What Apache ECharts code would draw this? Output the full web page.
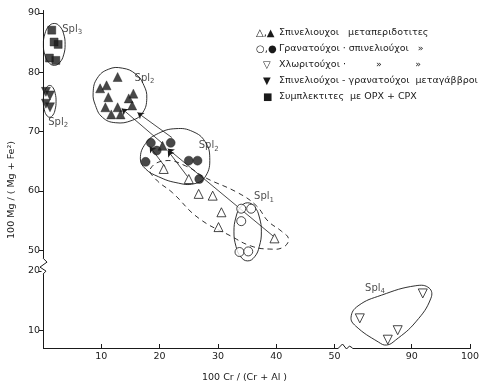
<!DOCTYPE html>
<html><head><meta charset="utf-8">
<script src="https://cdn.jsdelivr.net/npm/echarts@6/dist/echarts.min.js"></script>
<style>html,body{margin:0;padding:0;background:#fff}#c{width:485px;height:383px}</style>
</head><body><div id="c"></div>
<script>
// ---- tick labels ----
const xTicks = [10, 20, 30, 40, 50, 90, 100];
const yTicks = [10, 20, 50, 60, 70, 80, 90];

// ---- data points [100Cr/(Cr+Al), 100Mg/(Mg+Fe)] ----
const squares = [[1.5, 87.1], [1.9, 85.1], [2.6, 84.7], [1.1, 82.4], [2.2, 82.0]];
const filledInvTri = [[0.5, 76.7], [1.2, 76.1], [0.5, 74.7], [1.2, 74.1]];
const filledTri = [[12.8, 79.2], [9.8, 77.3], [10.9, 77.8], [11.2, 75.8], [14.7, 75.6], [15.5, 76.4],
                   [10.7, 74.1], [11.7, 72.9], [12.8, 74.1], [13.3, 72.9], [15.3, 74.4], [20.5, 67.6]];
const filledCircle = [[18.5, 68.1], [19.5, 66.8], [21.9, 68.1], [17.6, 64.9], [25.0, 65.1], [26.5, 65.1], [26.8, 62.0]];
const openTri = [[20.7, 63.7], [25.0, 62.0], [26.7, 59.5], [29.1, 59.2], [30.6, 56.4], [30.1, 53.9], [39.7, 52.0]];
const openCircle = [[34.0, 57.0], [35.7, 57.0], [34.0, 54.9], [33.7, 49.7], [35.2, 49.8]];
const openInvTri = [[81.1, 12.0], [87.6, 10.0], [85.9, 8.4], [91.9, 16.2]];

// ---- group outlines (data coordinates) ----
const spl3Outline = [[1.93, 88.23], [2.86, 87.76], [3.54, 86.47], [3.79, 84.7], [3.54, 82.93], [2.86, 81.64],
                     [1.93, 81.17], [1.0, 81.64], [0.32, 82.93], [0.07, 84.7], [0.32, 86.47], [1.0, 87.76]];
const spl2SmallOutline = [[1.15, 77.78], [1.70, 77.42], [2.09, 76.44], [2.24, 75.1], [2.09, 73.76], [1.70, 72.78],
                          [1.15, 72.42], [0.60, 72.78], [0.21, 73.76], [0.06, 75.1], [0.21, 76.44], [0.60, 77.42]];
const spl2TopOutline = [[8.6, 76.6], [9.3, 79.0], [11.2, 80.5], [13.6, 80.7], [15.9, 79.7], [17.3, 77.8],
                        [17.8, 75.6], [17.1, 73.2], [15.3, 71.9], [12.4, 71.5], [10.2, 72.4], [9.0, 74.4]];
const spl2MidOutline = [[16.7, 65.4], [17.6, 68.0], [19.8, 69.7], [22.8, 70.5], [25.7, 70.0], [27.8, 68.3],
                        [28.6, 65.6], [27.9, 62.5], [25.9, 61.2], [22.8, 61.4], [19.8, 62.4], [17.6, 63.7]];
const spl1Outline = [[35.1, 58.0], [36.3, 57.3], [37.1, 55.6], [37.45, 53.1], [37.1, 50.65], [36.3, 48.9],
                     [35.1, 48.2], [33.9, 48.9], [33.1, 50.65], [32.75, 53.1], [33.1, 55.6], [33.9, 57.3]];
const spl4Outline = [[79.6, 12.2], [80.8, 14.1], [84.8, 15.9], [90.7, 17.5], [93.0, 17.1], [93.3, 15.4],
                     [90.7, 11.4], [87.2, 8.3], [85.7, 7.5], [84.3, 8.0], [80.4, 10.7]];
const dashedEnvelope = [[18.4, 63.7], [21.0, 65.1], [24.5, 64.2], [27.9, 62.2], [33.4, 59.7], [36.6, 57.5],
                        [38.6, 54.9], [40.9, 53.2], [42.1, 51.9], [41.2, 50.5], [38.8, 50.2], [35.7, 50.7],
                        [32.2, 52.4], [26.7, 55.4], [22.2, 59.7], [19.3, 62.0]];

// ---- arrows [from, to] ----
const arrows = [
  [[20.5, 68.0], [13.5, 73.9]],
  [[22.1, 69.0], [16.2, 73.2]],
  [[20.9, 64.1], [18.3, 67.5]],
  [[24.8, 62.4], [21.4, 66.8]],
  [[39.7, 52.2], [21.4, 67.1]]
];

// ---- group labels [x, y, name, subscript] ----
const groupLabels = [
  [3.3, 87.3, 'Spl', '3'],
  [0.9, 71.6, 'Spl', '2'],
  [15.7, 79.0, 'Spl', '2'],
  [26.7, 67.6, 'Spl', '2'],
  [36.2, 59.0, 'Spl', '1'],
  [82.0, 17.1, 'Spl', '4']
];

// ---- legend ----
const legendSymbols = ['△,▲', '○,●', '▽', '▼', '■'];
const legendTexts = [
  'Σπινελιουχοι   μεταπεριδοτιτες',
  'Γρανατούχοι · σπινελιούχοι   »',
  'Χλωριτούχοι ·          »           »',
  'Σπινελιούχοι - γρανατούχοι  μεταγάββροι',
  'Συμπλεκτιτες  με OPX + CPX'
];

const solidOutlines = [spl3Outline, spl2SmallOutline, spl2TopOutline, spl2MidOutline, spl1Outline, spl4Outline];
const dashedOutlines = [dashedEnvelope];

const FONT = 'DejaVu Sans';
const INK = '#1a1a1a';

const chart = echarts.init(document.getElementById('c'), null, {renderer: 'canvas'});

function outlineSeries(list, dashed) {
  return {
    type: 'custom',
    z: 1,
    silent: true,
    data: list.map((_, i) => [i]),
    renderItem: function (params, api) {
      const pts = list[params.dataIndex].map(p => api.coord(p));
      return {
        type: 'polygon',
        shape: {points: pts, smooth: 0.45},
        style: {fill: 'none', stroke: INK, lineWidth: 0.9, lineDash: dashed ? [5, 4] : null}
      };
    }
  };
}

function scatter(data, symbol, filled, size, rotate) {
  return {
    type: 'scatter',
    z: 5,
    data: data,
    symbol: symbol,
    symbolSize: size,
    symbolRotate: rotate || 0,
    itemStyle: filled ? {color: INK, borderColor: INK, borderWidth: 0.5}
                      : {color: '#fff', borderColor: INK, borderWidth: 1}
  };
}

const legendGraphics = [];
legendSymbols.forEach((s, i) => {
  legendGraphics.push({
    type: 'text', left: i < 2 ? 256 : 263, top: 28 + i * 16,
    style: {text: s, font: '10px "DejaVu Sans"', fill: INK}
  });
  legendGraphics.push({
    type: 'text', left: 279, top: 28 + i * 16,
    style: {text: legendTexts[i], font: '9.5px "DejaVu Sans"', fill: INK}
  });
});

chart.setOption({
  animation: false,
  backgroundColor: '#fff',
  grid: {left: 43, right: 15, top: 10, bottom: 35, containLabel: false, outerBoundsMode: 'none'},
  xAxis: {
    type: 'value', min: 0, max: 100,
    breaks: [{start: 51, end: 78.5, gap: '1%'}],
    breakArea: {show: false},
    name: '100 Cr / (Cr + Al )',
    nameLocation: 'middle', nameGap: 25,
    nameTextStyle: {fontFamily: FONT, fontSize: 9.5, color: INK, padding: [0, 24, 0, 0]},
    axisLine: {show: true, lineStyle: {color: INK, width: 1}},
    axisTick: {show: true, inside: true, length: 4, customValues: xTicks, lineStyle: {color: INK}},
    axisLabel: {show: true, customValues: xTicks, margin: 4, fontFamily: FONT, fontSize: 9.5, color: INK},
    splitLine: {show: false}
  },
  yAxis: {
    type: 'value', min: 7, max: 90.5,
    breaks: [{start: 21, end: 47.8, gap: '0.5%'}],
    breakArea: {show: false},
    name: '100 Mg / ( Mg + Fe²)',
    nameLocation: 'middle', nameGap: 26,
    nameTextStyle: {fontFamily: FONT, fontSize: 9.5, color: INK, padding: [0, 22, 0, 0]},
    axisLine: {show: true, lineStyle: {color: INK, width: 1}},
    axisTick: {show: true, inside: false, length: 4, customValues: yTicks, lineStyle: {color: INK}},
    axisLabel: {show: true, customValues: yTicks, margin: 3, fontFamily: FONT, fontSize: 9.5, color: INK},
    splitLine: {show: false}
  },
  graphic: legendGraphics,
  series: [
    outlineSeries(solidOutlines, false),
    outlineSeries(dashedOutlines, true),
    {
      type: 'lines', coordinateSystem: 'cartesian2d', z: 2, silent: true,
      data: arrows.map(a => ({coords: a})),
      symbol: ['none', 'arrow'], symbolSize: 6,
      lineStyle: {color: INK, width: 0.8, opacity: 1}
    },
    scatter(squares, 'rect', true, 8),
    scatter(filledInvTri, 'triangle', true, 9, 180),
    scatter(filledTri, 'triangle', true, 9),
    scatter(filledCircle, 'circle', true, 9),
    scatter(openTri, 'triangle', false, 9),
    scatter(openCircle, 'circle', false, 9),
    scatter(openInvTri, 'triangle', false, 9, 180),
    {
      type: 'scatter', z: 6, silent: true,
      data: groupLabels,
      symbolSize: 0,
      label: {
        show: true, position: 'right', distance: 0,
        formatter: p => '{a|' + p.data[2] + '}{s|' + p.data[3] + '}',
        rich: {
          a: {fontFamily: FONT, fontSize: 10, color: INK},
          s: {fontFamily: FONT, fontSize: 7, color: INK, padding: [6, 0, 0, 0]}
        }
      }
    }
  ]
});

// axis break zigzags on the axis lines
const xb1 = chart.convertToPixel({xAxisIndex: 0}, 51);
const xb2 = chart.convertToPixel({xAxisIndex: 0}, 78.5);
const y0 = chart.convertToPixel({yAxisIndex: 0}, 7);
const yb1 = chart.convertToPixel({yAxisIndex: 0}, 47.8);
const yb2 = chart.convertToPixel({yAxisIndex: 0}, 21);
const x0 = chart.convertToPixel({xAxisIndex: 0}, 0);
const mx = (xb1 + xb2) / 2 + 3, my = (yb1 + yb2) / 2 + 2;
chart.setOption({
  graphic: legendGraphics.concat([
    {type: 'rect', shape: {x: mx - 7, y: y0 - 1.5, width: 14, height: 3}, style: {fill: '#fff'}, z: 100},
    {type: 'polyline', shape: {points: [[mx - 7, y0], [mx - 3, y0 - 4], [mx + 1, y0 + 1], [mx + 4, y0 - 2], [mx + 7, y0]]},
     style: {stroke: INK, lineWidth: 1, fill: 'none'}, z: 101},
    {type: 'rect', shape: {x: x0 - 1.5, y: my - 8, width: 3, height: 16}, style: {fill: '#fff'}, z: 100},
    {type: 'polyline', shape: {points: [[x0, my - 8], [x0 + 4, my - 4], [x0 - 3, my + 1], [x0 + 3, my + 5], [x0, my + 8]]},
     style: {stroke: INK, lineWidth: 1, fill: 'none'}, z: 101}
  ])
});
</script>
</body></html>
